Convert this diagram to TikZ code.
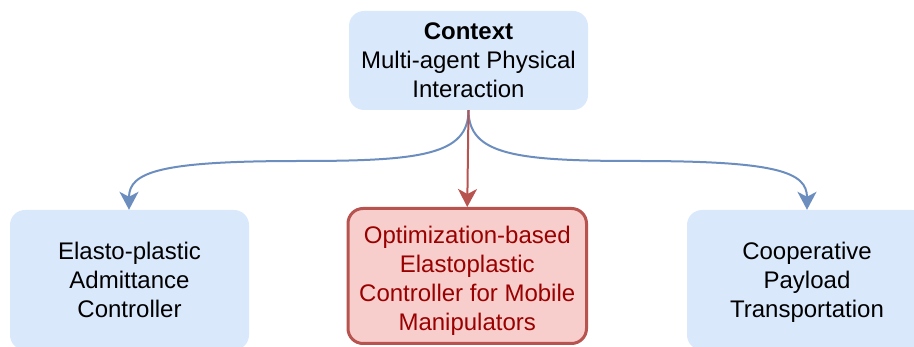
\documentclass[tikz,border=0pt]{standalone}
\usepackage{fontspec}
\setmainfont{Liberation Sans}
\usetikzlibrary{arrows.meta}
\definecolor{bluefill}{HTML}{DAE8FC}
\definecolor{blueline}{HTML}{6C8EBF}
\definecolor{redfill}{HTML}{F8CECC}
\definecolor{redline}{HTML}{B85450}
\definecolor{redtext}{HTML}{990000}
\begin{document}
\begin{tikzpicture}[x=1pt,y=-1pt,
  txt/.style={align=center, inner sep=0pt, font=\fontsize{24}{29}\selectfont},
  bluebox/.style={txt, rounded corners=15pt, fill=bluefill},
  redbox/.style={rounded corners=15pt, fill=redfill, draw=redline, line width=3pt},
  link/.style={line width=2pt, -{Stealth[length=18pt,width=19pt,inset=5pt]}},
  bluelink/.style={link, draw=blueline},
  redlink/.style={link, draw=redline}]
\useasboundingbox (0,0) rectangle (914,347);

% boxes
\node[bluebox, minimum width=239pt, minimum height=99pt] (ctx) at (468.5,60.5)
  {\textbf{Context}\\Multi-agent Physical\\Interaction};
\node[bluebox, minimum width=239pt, minimum height=140pt] (left) at (129.5,280)
  {Elasto-plastic\\Admittance\\Controller};
\node[redbox, minimum width=238.5pt, minimum height=135pt] (mid) at (467.25,276) {};
\node[txt, text=redtext] (midtext) at (467.25,281)
  {Optimization-based\\Elastoplastic\\Controller for Mobile\\Manipulators};
\node[bluebox, minimum width=240pt, minimum height=140pt] (right) at (807,280) {};
\node[txt] (righttext) at (807,282)
  {Cooperative\\Payload\\Transportation};

% connectors
\coordinate (src) at (ctx.south);
\draw[bluelink] (src) .. controls ++(0,45) and (420,161) .. (300,161)
  .. controls (160,161) and (129,172) .. (left.north -| 129,0);
\draw[bluelink] (src) .. controls ++(0,45) and (517,161) .. (637,161)
  .. controls (777,161) and (807,172) .. (right.north -| 807,0);
\draw[redlink] (src) -- (mid.north);
\end{tikzpicture}
\end{document}
